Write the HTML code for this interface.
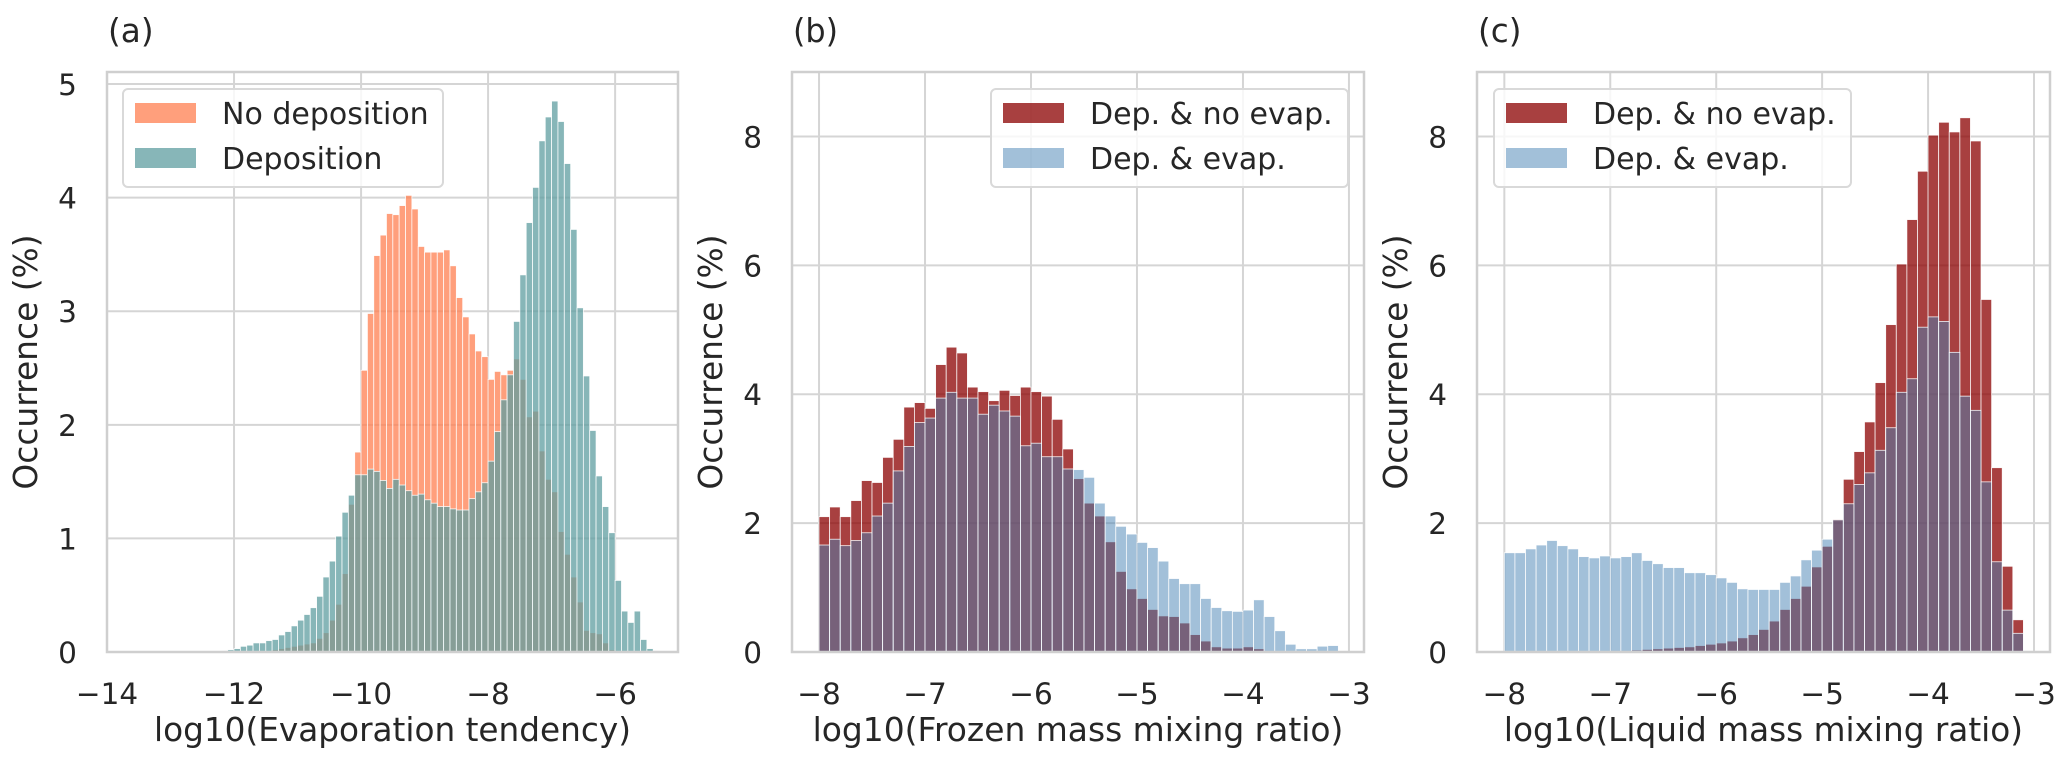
<!DOCTYPE html>
<html><head><meta charset="utf-8">
<style>
html,body{margin:0;padding:0;background:#fff;}
svg{display:block;font-family:"DejaVu Sans","Liberation Sans",sans-serif;}
</style></head>
<body>
<svg id="fig" width="2067" height="775" viewBox="0 0 2067 775" xmlns="http://www.w3.org/2000/svg"></svg>
<script>
// ---------- Panel (a) data ----------
const aNoDepStart = -11.5;
const aNoDep = [0.01,0.02,0.03,0.04,0.05,0.06,0.07,0.08,0.12,0.17,0.28,0.42,0.69,1.30,1.76,
 2.48,2.98,3.49,3.67,3.86,3.85,3.93,4.02,3.90,3.57,3.52,3.52,3.52,3.54,3.40,3.12,2.95,2.80,2.65,2.60,
 2.40,2.47,2.44,2.48,2.58,2.40,2.07,2.12,1.77,1.52,1.41,1.06,0.86,0.66,0.44,0.19,0.17,0.16,0.08,0.02];
const aDepStart = -12.4;
const aDep = [0.003,0.005,0.01,0.02,0.03,0.05,0.06,0.08,0.08,0.10,0.11,0.15,0.18,0.23,0.28,0.33,0.39,0.49,0.66,0.80,1.02,1.23,1.38,1.56,
 1.56,1.61,1.59,1.51,1.44,1.52,1.47,1.42,1.38,1.39,1.34,1.31,1.28,1.28,1.26,1.25,1.25,1.35,1.41,1.49,
 1.68,1.94,2.22,2.44,2.91,3.32,3.78,4.09,4.50,4.71,4.85,4.67,4.30,3.72,3.03,2.43,1.95,1.55,1.28,1.05,
 0.63,0.36,0.26,0.36,0.11,0.03,0.01];
const aXTicks = [-14,-12,-10,-8,-6];
const aYTicks = [0,1,2,3,4,5];
// ---------- Panel (b) data ----------
const bStart = -8.0;
const bNoEvap = [2.10,2.25,2.10,2.35,2.66,2.63,3.02,3.30,3.80,3.87,3.78,4.46,4.73,4.64,4.11,4.04,3.90,4.06,3.98,4.11,
 4.04,3.97,3.61,3.15,2.69,2.31,2.11,1.71,1.25,0.98,0.83,0.66,0.56,0.55,0.45,0.27,0.17,0.08,0.06,0.06,
 0.08,0.05,0.02,0.01,0,0,0,0,0];
const bEvap = [1.66,1.75,1.65,1.73,1.85,2.11,2.31,2.81,3.19,3.56,3.63,3.94,4.03,3.94,3.94,3.69,3.83,3.74,3.66,3.20,
 3.24,3.03,3.03,2.84,2.83,2.71,2.31,2.11,1.95,1.83,1.70,1.62,1.41,1.14,1.06,1.06,0.83,0.69,0.64,0.63,
 0.65,0.81,0.55,0.33,0.12,0.05,0.05,0.09,0.10];
// ---------- Panel (c) data ----------
const cStart = -8.0;
const cNoEvap = [0,0,0,0,0,0,0,0,0,0,0.02,0.02,0.03,0.04,0.05,0.06,0.07,0.08,0.10,0.12,
 0.14,0.17,0.22,0.27,0.35,0.48,0.66,0.83,1.02,1.32,1.64,2.06,2.68,3.11,3.57,4.18,5.08,6.02,6.71,7.46,
 8.02,8.22,8.07,8.29,7.93,5.47,2.86,1.33,0.50];
const cEvap = [1.54,1.54,1.60,1.66,1.73,1.65,1.60,1.48,1.46,1.49,1.46,1.48,1.54,1.42,1.37,1.31,1.31,1.23,1.23,1.20,
 1.15,1.08,0.98,0.97,0.97,0.97,1.08,1.18,1.43,1.58,1.75,2.05,2.30,2.60,2.78,3.13,3.48,4.03,4.24,5.04,
 5.20,5.13,4.65,3.97,3.75,2.64,1.40,0.65,0.29];
const bcXTicks = [-8,-7,-6,-5,-4,-3];
const bcYTicks = [0,2,4,6,8];
const binWidth = 0.1;

const NS = "http://www.w3.org/2000/svg";
const svg = document.getElementById('fig');
const CW = {' ':.318,'(':.390,')':.390,'%':.950,'&':.780,'.':.318,'\u2212':.838,
 '0':.636,'1':.636,'2':.636,'3':.636,'4':.636,'5':.636,'6':.636,'7':.636,'8':.636,'9':.636,
 a:.613,c:.550,d:.635,e:.615,f:.352,g:.635,i:.278,l:.278,m:.974,n:.634,o:.612,p:.635,q:.635,r:.411,
 s:.521,t:.392,u:.634,v:.592,x:.592,y:.592,z:.525,D:.770,E:.632,F:.575,L:.557,N:.748,O:.787};
function textW(s, fs){ let w=0; for (const ch of s) w += (CW[ch]||0.6); return w*fs; }
function mk(tag, attrs, parent){
  const e = document.createElementNS(NS, tag);
  for (const k in attrs) e.setAttribute(k, attrs[k]);
  (parent||svg).appendChild(e);
  return e;
}
function txt(str, attrs, parent){
  const t = mk('text', attrs, parent);
  t.textContent = str;
  t.setAttribute('textLength', textW(str, +attrs['font-size']).toFixed(1));
  t.setAttribute('lengthAdjust', 'spacingAndGlyphs');
  return t;
}
const GRID = "#d5d5d5", TXT = "#262626";
const TICK_FS = 29.5, LAB_FS = 32.7, LEG_FS = 30;

function panel(p){
  const g = mk('g', {});
  
  
  const X = v => p.x0 + (v - p.xmin) * (p.x1 - p.x0) / (p.xmax - p.xmin);
  const Y = v => p.y1 - (v - p.ymin) * (p.y1 - p.y0) / (p.ymax - p.ymin);
  p.xticks.forEach(t => {
    const l = mk('line', {x1:X(t), x2:X(t), y1:p.y0, y2:p.y1, stroke:GRID, 'stroke-width':2}, g);
    
    
    const tx = txt(t < 0 ? '\u2212' + (-t) : String(t), {x:X(t), y:p.y1+52, 'font-size':TICK_FS, fill:TXT, 'text-anchor':'middle'}, g);
    
    
  });
  p.yticks.forEach(t => {
    const l = mk('line', {x1:p.x0, x2:p.x1, y1:Y(t), y2:Y(t), stroke:GRID, 'stroke-width':2}, g);
    
    
    const tx = txt(String(t), {x:p.x0-30, y:Y(t)+11, 'font-size':TICK_FS, fill:TXT, 'text-anchor':'end'}, g);
    
    
  });
  p.series.forEach(s => {
    const sg = mk('g', {}, g);
    
    
    s.values.forEach((v, i) => {
      if (v <= 0) return;
      const left = s.start + i * binWidth;
      const xa = X(left), xb = X(left + binWidth);
      const r = mk('rect', {x:xa, y:Y(v), width:xb-xa, height:Y(0)-Y(v), fill:s.color, 'fill-opacity':s.alpha, stroke:'#ffffff', 'stroke-width':0.8, 'stroke-opacity':0.9}, sg);
      
      
    });
  });
  const fr = mk('rect', {x:p.x0, y:p.y0, width:p.x1-p.x0, height:p.y1-p.y0, fill:'none', stroke:'#cfcfcf', 'stroke-width':2.5}, g);
  
  
  const xl = txt(p.xlabel, {x:(p.x0+p.x1)/2, y:741, 'font-size':LAB_FS, fill:TXT, 'text-anchor':'middle'}, g);
  
  
  const yl = txt('Occurrence (%)', {x:0, y:0, 'font-size':LAB_FS, fill:TXT, 'text-anchor':'middle', transform:`translate(${p.ylabelX},${(p.y0+p.y1)/2}) rotate(-90)`}, g);
  
  
  const pl = txt(p.tag, {x:p.x0+1, y:42, 'font-size':LAB_FS, fill:TXT}, g);
  
  
  const lg = mk('g', {}, g);
  
  
  const lb = mk('rect', {x:p.leg.x, y:89, width:p.leg.w, height:98, rx:5, fill:'#ffffff', 'fill-opacity':0.8, stroke:'#d9d9d9', 'stroke-width':2}, lg);
  
  
  p.series.forEach((s, i) => {
    const py = 103 + i * 45;
    const sw = mk('rect', {x:p.leg.x+12, y:py, width:61, height:20, fill:s.color, 'fill-opacity':s.alpha}, lg);
    
    
    const t = txt(s.label, {x:p.leg.x+99, y:py+21, 'font-size':LEG_FS, fill:TXT}, lg);
    
    
  });
}

panel({name:'panel-a', tag:'(a)', x0:107, x1:678, y0:72, y1:652, xmin:-14, xmax:-5.01, ymin:0, ymax:5.106,
  xticks:aXTicks, yticks:aYTicks, xlabel:'log10(Evaporation tendency)', ylabelX:37,
  leg:{x:123, w:320},
  series:[
    {name:'no-deposition-bars', label:'No deposition', color:'#ff7f50', alpha:0.75, start:aNoDepStart, values:aNoDep},
    {name:'deposition-bars', label:'Deposition', color:'#5f9ea0', alpha:0.75, start:aDepStart, values:aDep}
  ]});
panel({name:'panel-b', tag:'(b)', x0:792, x1:1364, y0:72, y1:652, xmin:-8.255, xmax:-2.858, ymin:0, ymax:9.0,
  xticks:bcXTicks, yticks:bcYTicks, xlabel:'log10(Frozen mass mixing ratio)', ylabelX:722,
  leg:{x:991, w:357},
  series:[
    {name:'dep-no-evap-bars', label:'Dep. & no evap.', color:'#8b0000', alpha:0.75, start:bStart, values:bNoEvap},
    {name:'dep-evap-bars', label:'Dep. & evap.', color:'#4682b4', alpha:0.5, start:bStart, values:bEvap}
  ]});
panel({name:'panel-c', tag:'(c)', x0:1477, x1:2050, y0:72, y1:652, xmin:-8.258, xmax:-2.849, ymin:0, ymax:9.0,
  xticks:bcXTicks, yticks:bcYTicks, xlabel:'log10(Liquid mass mixing ratio)', ylabelX:1407,
  leg:{x:1494, w:357},
  series:[
    {name:'dep-no-evap-bars', label:'Dep. & no evap.', color:'#8b0000', alpha:0.75, start:cStart, values:cNoEvap},
    {name:'dep-evap-bars', label:'Dep. & evap.', color:'#4682b4', alpha:0.5, start:cStart, values:cEvap}
  ]});
</script>
</body></html>
